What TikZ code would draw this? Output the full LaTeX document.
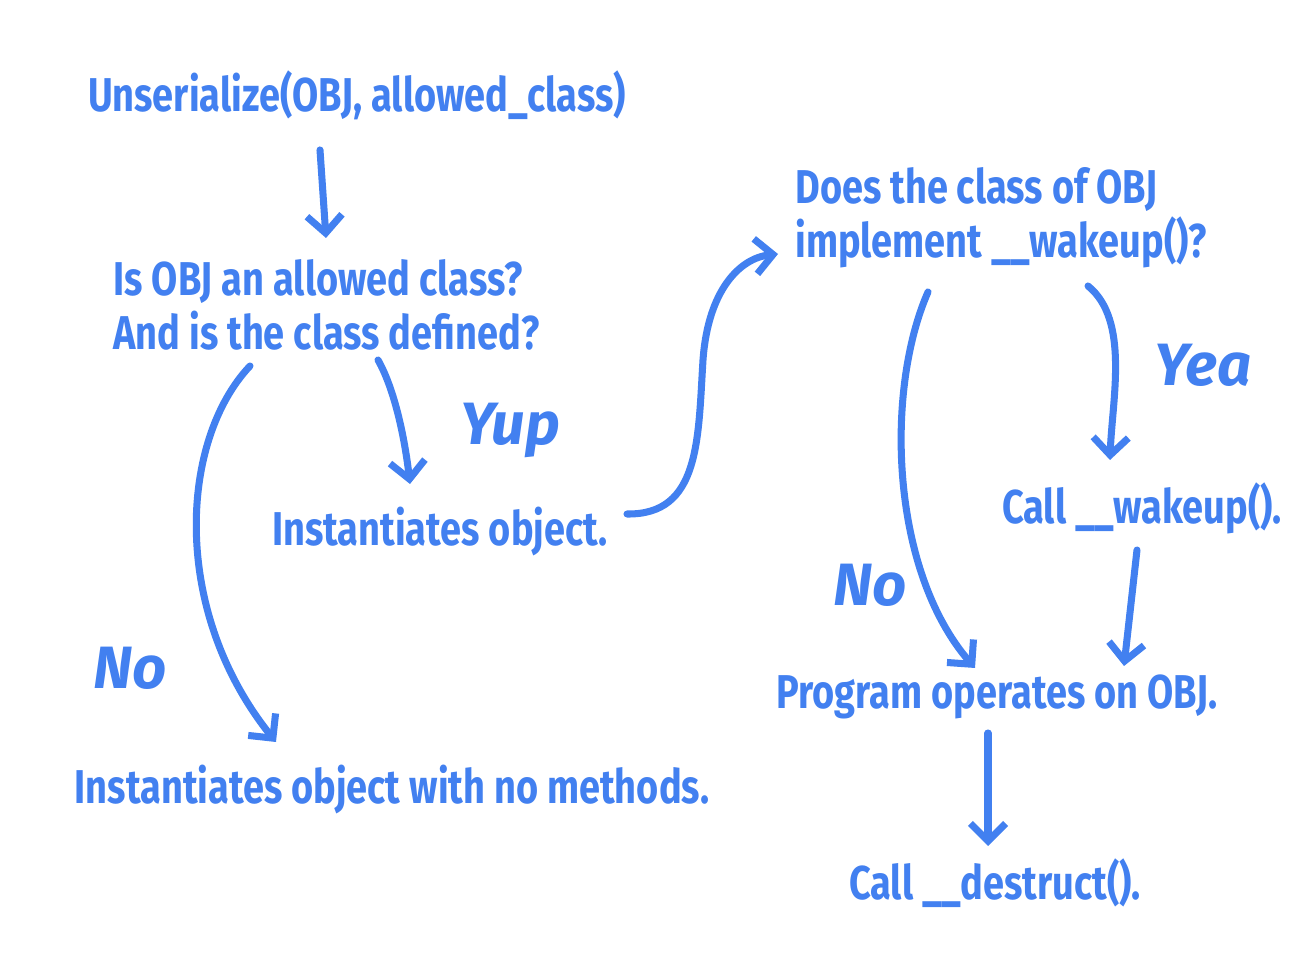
\documentclass[tikz,border=0pt]{standalone}
\usepackage{fontspec}
\setmainfont{Fira Sans}
\usepackage{graphicx}
\usetikzlibrary{arrows.meta}
\definecolor{pen}{RGB}{66,128,240}
\newcommand{\cond}[1]{\scalebox{0.8}[1]{#1}}
\tikzset{
    % Define standard arrow tip
    >={Straight Barb[length=10pt,width=20pt,line width=4pt]},
    % Define style for printed texts
    txt/.style={
           text=pen, font=\fontsize{27}{35}\selectfont\bfseries, inner sep=0pt},
    % Define style for scribbled labels
    hand/.style={
           text=pen, font=\fontsize{34}{36}\selectfont\bfseries\itshape, inner sep=0pt},
    % Define arrow style
    pil/.style={
           ->, draw=pen, line width=4pt, line cap=round, line join=round}
}
\begin{document}
\begin{tikzpicture}[x=0.02cm, y=-0.02cm]
	\useasboundingbox[fill=white] (0,0) rectangle (1296,972);

	% Texts
	\node[txt](unser) at (357,95){\cond{Unserialize(OBJ, allowed\_class)}};
	\node[txt, anchor=west, align=left](allowed) at (113,305){\cond{Is OBJ an allowed class?}\\[-4pt]\cond{And is the class defined?}};
	\node[txt](inst) at (440,532){\cond{Instantiates object.}};
	\node[txt](instnm) at (392,790){\cond{Instantiates object with no methods.}};
	\node[txt, anchor=west, align=left](wakeq) at (795,218){\cond{Does the class of OBJ}\\[-4pt]\cond{implement \_\_wakeup()?}};
	\node[txt](wake) at (1142,508){\cond{Call \_\_wakeup().}};
	\node[txt](prog) at (997,697){\cond{Program operates on OBJ.}};
	\node[txt](destr) at (995,883){\cond{Call \_\_destruct().}};

	% Scribbled labels
	\node[hand](yup) at (510,430){Yup};
	\node[hand](yea) at (1203,365){Yea};
	\node[hand](no1) at (130,668){No};
	\node[hand](no2) at (870,585){No};

	% Arrow ends
	\coordinate (a1) at (320,150);  \coordinate (a2) at (326,238);
	\coordinate (b1) at (250,366);  \coordinate (b2) at (276,742);
	\coordinate (c1) at (378,360);  \coordinate (c2) at (410,484);
	\coordinate (d1) at (627,514);  \coordinate (d2) at (778,254);
	\coordinate (e1) at (928,292);  \coordinate (e2) at (975,668);
	\coordinate (f1) at (1088,286); \coordinate (f2) at (1110,460);
	\coordinate (g1) at (1137,550); \coordinate (g2) at (1124,666);
	\coordinate (h1) at (988,733);  \coordinate (h2) at (988,846);

	\draw[pil] (a1) -- (a2);
	\draw[pil] (b1) .. controls (180,440) and (170,610) .. (b2);
	\draw[pil] (c1) .. controls (395,390) and (405,440) .. (c2);
	\draw[pil] (d1) .. controls (700,515) and (698,440) .. (703,360)
	                .. controls (708,290) and (740,258) .. (d2);
	\draw[pil] (e1) .. controls (885,390) and (890,570) .. (e2);
	\draw[pil] (f1) .. controls (1130,320) and (1112,400) .. (f2);
	\draw[pil] (g1) -- (g2);
	\draw[pil] (h1) -- (h2);

\end{tikzpicture}
\end{document}
